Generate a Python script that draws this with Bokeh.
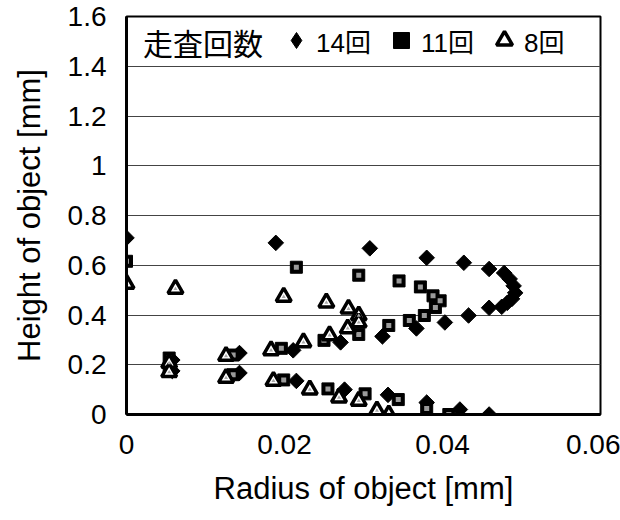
import math
from bokeh.plotting import figure
from bokeh.models import FixedTicker, Legend, LegendItem, Label
from bokeh.embed import file_html
from bokeh.resources import INLINE

# 14回 (diamonds)
r14 = [0.0, 0.0189, 0.0308, 0.0380, 0.0427, 0.0459, 0.0478, 0.0485, 0.0490, 0.0492,
       0.0488, 0.0482, 0.0475, 0.0459, 0.0433, 0.0403, 0.0367, 0.0324, 0.0271, 0.0211,
       0.0143, 0.0058, 0.0058, 0.0143, 0.0215, 0.0276, 0.0331, 0.0380, 0.0422, 0.0459]
h14 = [0.71, 0.69, 0.668, 0.63, 0.61, 0.585, 0.569, 0.545, 0.517, 0.489,
       0.465, 0.449, 0.433, 0.429, 0.398, 0.370, 0.346, 0.314, 0.290, 0.258,
       0.247, 0.219, 0.175, 0.167, 0.135, 0.100, 0.079, 0.048, 0.020, 0.0]
# 11回 (squares)
r11 = [0.0, 0.0215, 0.0294, 0.0345, 0.0372, 0.0388, 0.0397, 0.0391, 0.0377, 0.0358,
       0.0332, 0.0294, 0.0250, 0.0196, 0.0135, 0.0054, 0.0054, 0.0135, 0.0199, 0.0255,
       0.0302, 0.0344, 0.0380, 0.0408]
h11 = [0.616, 0.592, 0.56, 0.537, 0.513, 0.477, 0.457, 0.43, 0.398, 0.378,
       0.358, 0.322, 0.298, 0.266, 0.239, 0.227, 0.18, 0.16, 0.139, 0.103,
       0.083, 0.06, 0.024, 0.0]
# 8回 (triangles)
r8 = [0.0, 0.0062, 0.0199, 0.0253, 0.0281, 0.0294, 0.0294, 0.0280, 0.0257, 0.0224,
      0.0183, 0.0126, 0.0054, 0.0054, 0.0126, 0.0186, 0.0232, 0.0269, 0.0294, 0.0317,
      0.0332]
h8 = [0.525, 0.505, 0.473, 0.45, 0.425, 0.398, 0.37, 0.346, 0.318, 0.29,
      0.258, 0.235, 0.207, 0.17, 0.147, 0.135, 0.10, 0.068, 0.055, 0.016,
      0.0]

x_ticks = [0, 0.02, 0.04, 0.06]
x_tick_labels = ["0", "0.02", "0.04", "0.06"]
y_ticks = [0, 0.2, 0.4, 0.6, 0.8, 1.0, 1.2, 1.4, 1.6]
y_tick_labels = ["0", "0.2", "0.4", "0.6", "0.8", "1", "1.2", "1.4", "1.6"]
legend_title = "走査回数"
series_labels = ["14回", "11回", "8回"]

FONT = "'Liberation Sans', 'Noto Sans CJK JP', sans-serif"

p = figure(width=620, height=520, output_backend="svg", toolbar_location=None,
           x_range=(0, 0.06), y_range=(0, 1.6),
           min_border_left=126, min_border_right=20, min_border_top=16, min_border_bottom=106)
p.background_fill_color = "white"
p.border_fill_color = "white"
p.outline_line_color = "black"
p.outline_line_width = 2

p.xgrid.grid_line_color = None
p.ygrid.grid_line_color = "#444444"
p.ygrid.grid_line_width = 1

p.xaxis.ticker = FixedTicker(ticks=x_ticks)
p.yaxis.ticker = FixedTicker(ticks=y_ticks)
p.xaxis.major_label_overrides = {t: l for t, l in zip(x_ticks, x_tick_labels)}
p.yaxis.major_label_overrides = {t: l for t, l in zip(y_ticks, y_tick_labels)}

for ax in (p.xaxis[0], p.yaxis[0]):
    ax.axis_line_color = "black"
    ax.axis_line_width = 3
    ax.major_tick_line_color = None
    ax.minor_tick_line_color = None
    ax.major_label_text_font = FONT
    ax.major_label_text_font_size = "28px"
    ax.major_label_text_color = "black"
    ax.axis_label_text_font = FONT
    ax.axis_label_text_font_size = "31px"
    ax.axis_label_text_font_style = "normal"
    ax.axis_label_text_color = "black"

p.xaxis.major_label_standoff = 14
p.yaxis.major_label_standoff = 14
p.xaxis.axis_label = "Radius of object [mm]"
p.yaxis.axis_label = "Height of object [mm]"
p.xaxis.axis_label_standoff = 14
p.yaxis.axis_label_standoff = 18

# legend key for the diamond series (tiny in the plot, hidden under the rotated squares)
d14_key = p.scatter(r14, h14, marker="diamond", size=1, fill_color="black", line_color="black")
d14 = p.scatter(r14, h14, marker="square", angle=math.pi / 4, size=11,
                fill_color="black", line_color="black", line_width=1)
s11 = p.scatter(r11, h11, marker="square", size=12, fill_color="black", line_color="black")
s11b = p.scatter(r11, h11, marker="square", size=5, fill_color="#9a9a9a", line_color=None)
t8 = p.scatter(r8, h8, marker="triangle", size=15, fill_color="white", line_color="black", line_width=3.5)
t8b = p.scatter(r8, h8, marker="triangle", size=4, fill_color="#aaaaaa", line_color=None)

legend = Legend(items=[
    LegendItem(label=series_labels[0], renderers=[d14_key]),
    LegendItem(label=series_labels[1], renderers=[s11]),
    LegendItem(label=series_labels[2], renderers=[t8]),
], orientation="horizontal", location=(150, 354))
legend.label_text_font = FONT
legend.label_text_font_size = "26px"
legend.label_text_color = "black"
legend.label_standoff = 0
legend.glyph_width = 40
legend.glyph_height = 40
legend.label_height = 40
legend.spacing = 10
legend.border_line_color = None
legend.background_fill_alpha = 1
legend.margin = 0
legend.padding = 0
p.add_layout(legend)

title = Label(x=0.0021, y=1.487, text=legend_title, text_font=FONT, text_font_size="30px",
              text_baseline="middle", text_align="left", text_color="black")
p.add_layout(title)

open("out.html", "w").write(file_html(p, INLINE))
